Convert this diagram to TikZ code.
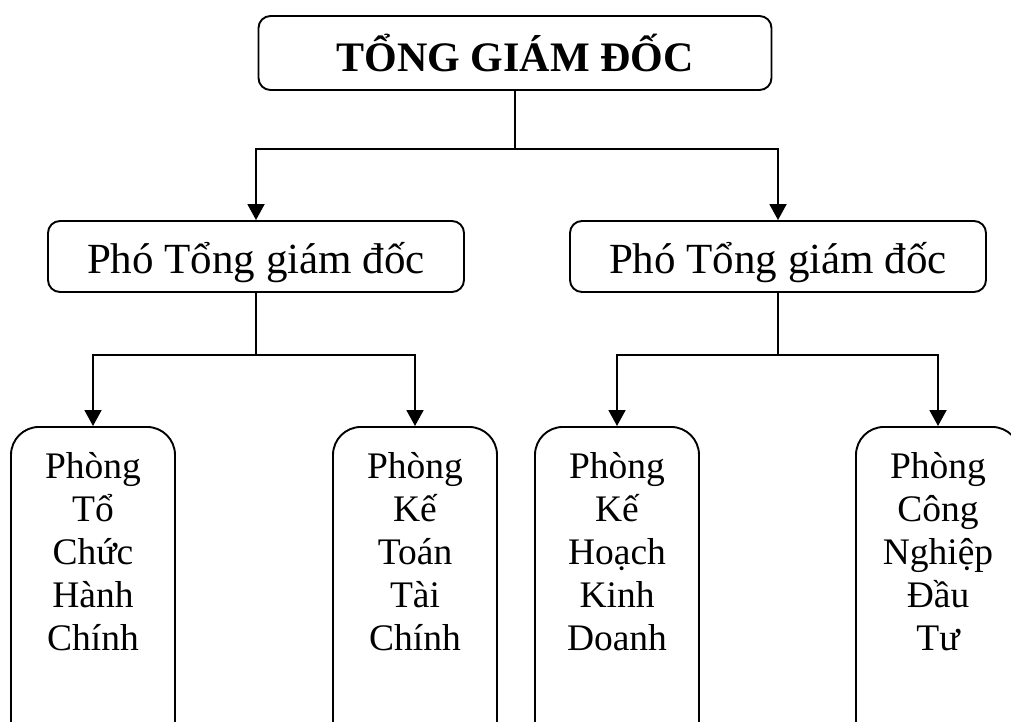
\documentclass[tikz,border=0pt]{standalone}
\usepackage{fontspec}
\setmainfont{Liberation Serif}
\usetikzlibrary{arrows.meta}

\begin{document}
\begin{tikzpicture}[x=1pt, y=-1pt, >={Triangle[width=17pt,length=16pt]}, line width=1.9pt,
	boss/.style={draw, rounded corners=12pt, minimum width=513pt, minimum height=74pt, inner sep=0pt,
		font=\fontsize{42}{50}\selectfont\bfseries},
	deputy/.style={draw, rounded corners=12pt, minimum width=416pt, minimum height=71pt, inner sep=0pt,
		text height=42pt, text depth=9pt, font=\fontsize{43}{50}\selectfont},
	deptbox/.style={draw, rounded corners=28pt, minimum width=164pt, minimum height=330pt, inner sep=0pt, anchor=north},
	depttext/.style={align=center, inner sep=0pt, anchor=north, yshift=-25pt,
		font=\fontsize{37.5}{43}\selectfont}]
	
	% page frame (boxes run off the bottom edge)
	\clip (0,0) rectangle (1011,722);
	
	% ----- TOP: director
	\node[boss] (tgd) at (515,53) {TỔNG GIÁM ĐỐC};
	
	% ----- MIDDLE: deputies
	\node[deputy] (pho1) at (256,256.5) {Phó Tổng giám đốc};
	\node[deputy] (pho2) at (778,256.5) {Phó Tổng giám đốc};
	
	% ----- BOTTOM: departments
	\node[deptbox] (ph1) at (93,426) {};
	\node[deptbox] (ph2) at (415,426) {};
	\node[deptbox] (ph3) at (617,426) {};
	\node[deptbox] (ph4) at (938,426) {};
	
	\node[depttext] (ph1t) at (ph1.north) {Phòng\\Tổ\\Chức\\Hành\\Chính};
	\node[depttext] (ph2t) at (ph2.north) {Phòng\\Kế\\Toán\\Tài\\Chính};
	\node[depttext] (ph3t) at (ph3.north) {Phòng\\Kế\\Hoạch\\Kinh\\Doanh};
	\node[depttext] (ph4t) at (ph4.north) {Phòng\\Công\\Nghiệp\\Đầu\\Tư};
	
	% director -> deputies
	\draw (tgd.south) -- ++(0,58) coordinate (j0);
	\draw[->] (j0) -| (pho1.north);
	\draw[->] (j0) -| (pho2.north);
	
	% deputies -> departments
	\draw (pho1.south) -- ++(0,62) coordinate (j1);
	\draw[->] (j1) -| (ph1.north);
	\draw[->] (j1) -| (ph2.north);
	
	\draw (pho2.south) -- ++(0,62) coordinate (j2);
	\draw[->] (j2) -| (ph3.north);
	\draw[->] (j2) -| (ph4.north);
	
\end{tikzpicture}
\end{document}
